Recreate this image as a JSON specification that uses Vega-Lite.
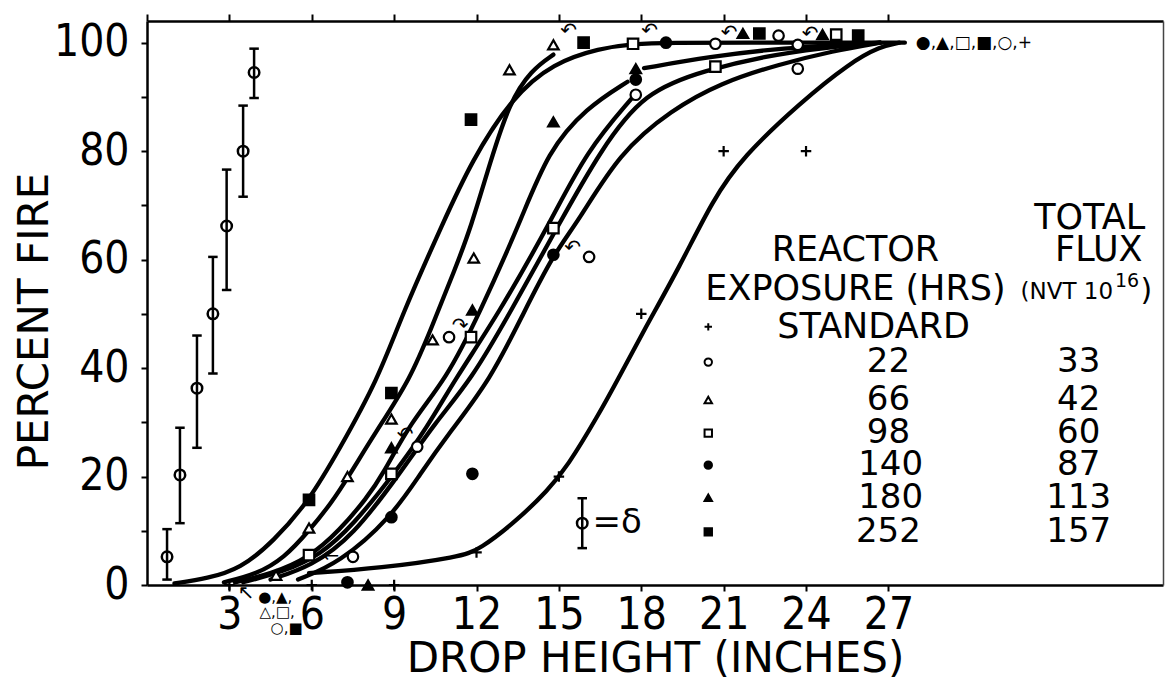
{
  "$schema": "https://vega.github.io/schema/vega-lite/v6.json",
  "width": 1016,
  "height": 564,
  "autosize": {"type": "none"},
  "padding": {"left": 147, "top": 21, "right": 2, "bottom": 93},
  "background": "white",
  "config": {
    "view": {"stroke": null},
    "axis": {"grid": false, "domainColor": "black", "tickColor": "black", "labelColor": "black", "titleColor": "black", "labelFont": "DejaVu Sans Condensed", "titleFont": "DejaVu Sans", "titleFontWeight": "normal"}
  },
  "datasets": {
    "curves": [
      {"c": "A", "x": 1.0, "y": 0.3}, {"c": "A", "x": 2.2, "y": 1.2}, {"c": "A", "x": 3.4, "y": 3}, {"c": "A", "x": 4.6, "y": 8}, {"c": "A", "x": 5.9, "y": 15.5}, {"c": "A", "x": 7.0, "y": 25}, {"c": "A", "x": 8.4, "y": 37.8}, {"c": "A", "x": 9.3, "y": 50}, {"c": "A", "x": 10.8, "y": 67}, {"c": "A", "x": 11.8, "y": 78}, {"c": "A", "x": 13.3, "y": 90}, {"c": "A", "x": 14.8, "y": 96.3}, {"c": "A", "x": 16.5, "y": 99}, {"c": "A", "x": 17.7, "y": 99.8}, {"c": "A", "x": 19, "y": 100}, {"c": "A", "x": 22, "y": 100}, {"c": "A", "x": 25, "y": 100}, {"c": "A", "x": 27.6, "y": 100},
      {"c": "B", "x": 2.8, "y": 0.5}, {"c": "B", "x": 4, "y": 2}, {"c": "B", "x": 5, "y": 5}, {"c": "B", "x": 5.9, "y": 10}, {"c": "B", "x": 6.7, "y": 15}, {"c": "B", "x": 7.4, "y": 20.5}, {"c": "B", "x": 8.3, "y": 28}, {"c": "B", "x": 9.6, "y": 38}, {"c": "B", "x": 10.4, "y": 48}, {"c": "B", "x": 11.2, "y": 58}, {"c": "B", "x": 11.8, "y": 66}, {"c": "B", "x": 12.5, "y": 78}, {"c": "B", "x": 13.2, "y": 89}, {"c": "B", "x": 14, "y": 95}, {"c": "B", "x": 14.8, "y": 97.8},
      {"c": "C", "x": 3.2, "y": 0.5}, {"c": "C", "x": 4.5, "y": 2}, {"c": "C", "x": 5.9, "y": 5}, {"c": "C", "x": 7, "y": 10}, {"c": "C", "x": 8, "y": 16}, {"c": "C", "x": 8.6, "y": 20.5}, {"c": "C", "x": 9.6, "y": 30}, {"c": "C", "x": 10.9, "y": 38}, {"c": "C", "x": 12.1, "y": 50}, {"c": "C", "x": 13.6, "y": 67}, {"c": "C", "x": 14.6, "y": 80}, {"c": "C", "x": 16, "y": 88}, {"c": "C", "x": 17.5, "y": 92.8},
      {"c": "C2", "x": 18.1, "y": 95.3}, {"c": "C2", "x": 20.5, "y": 97.4}, {"c": "C2", "x": 23, "y": 99}, {"c": "C2", "x": 26.7, "y": 100},
      {"c": "D", "x": 3.5, "y": 0.5}, {"c": "D", "x": 5, "y": 2.5}, {"c": "D", "x": 6.3, "y": 5.5}, {"c": "D", "x": 7.5, "y": 11}, {"c": "D", "x": 9, "y": 20.5}, {"c": "D", "x": 10.2, "y": 29}, {"c": "D", "x": 11.2, "y": 37.8}, {"c": "D", "x": 12.8, "y": 50}, {"c": "D", "x": 14.7, "y": 67}, {"c": "D", "x": 16, "y": 80}, {"c": "D", "x": 17.7, "y": 90},
      {"c": "E", "x": 4.5, "y": 1}, {"c": "E", "x": 6, "y": 3.5}, {"c": "E", "x": 7.5, "y": 9}, {"c": "E", "x": 9.2, "y": 20.5}, {"c": "E", "x": 10.5, "y": 30}, {"c": "E", "x": 11.8, "y": 37.8}, {"c": "E", "x": 13.2, "y": 50}, {"c": "E", "x": 15.05, "y": 67}, {"c": "E", "x": 16.5, "y": 80}, {"c": "E", "x": 18.1, "y": 91}, {"c": "E", "x": 20.4, "y": 95}, {"c": "E", "x": 22.5, "y": 97.5}, {"c": "E", "x": 24.5, "y": 99}, {"c": "E", "x": 26.7, "y": 100},
      {"c": "F", "x": 5.5, "y": 1}, {"c": "F", "x": 7, "y": 4}, {"c": "F", "x": 8.9, "y": 12.5}, {"c": "F", "x": 9.95, "y": 20.5}, {"c": "F", "x": 11, "y": 28}, {"c": "F", "x": 12.5, "y": 37.8}, {"c": "F", "x": 13.7, "y": 50}, {"c": "F", "x": 14.8, "y": 61}, {"c": "F", "x": 15.7, "y": 67}, {"c": "F", "x": 17.2, "y": 79.7}, {"c": "F", "x": 19.1, "y": 87.6}, {"c": "F", "x": 20.9, "y": 92.6}, {"c": "F", "x": 23, "y": 96}, {"c": "F", "x": 25, "y": 98.5}, {"c": "F", "x": 26.7, "y": 100},
      {"c": "G", "x": 5.9, "y": 2.2}, {"c": "G", "x": 8.5, "y": 3.1}, {"c": "G", "x": 11.4, "y": 5.2}, {"c": "G", "x": 12.1, "y": 6.5}, {"c": "G", "x": 13.5, "y": 12}, {"c": "G", "x": 14.6, "y": 17.5}, {"c": "G", "x": 15.3, "y": 21.8}, {"c": "G", "x": 16.4, "y": 31}, {"c": "G", "x": 17.2, "y": 38.4}, {"c": "G", "x": 18.1, "y": 47}, {"c": "G", "x": 19.4, "y": 58.7}, {"c": "G", "x": 20.6, "y": 71}, {"c": "G", "x": 21.7, "y": 79}, {"c": "G", "x": 23.8, "y": 89}, {"c": "G", "x": 25.6, "y": 96.3}, {"c": "G", "x": 26.7, "y": 99.3}, {"c": "G", "x": 27.4, "y": 100}
    ],
    "pts": [
      {"s": "Standard", "x": 3, "y": 0}, {"s": "Standard", "x": 6, "y": 0}, {"s": "Standard", "x": 9, "y": 0}, {"s": "Standard", "x": 12, "y": 6}, {"s": "Standard", "x": 15, "y": 20}, {"s": "Standard", "x": 18, "y": 50}, {"s": "Standard", "x": 21, "y": 80}, {"s": "Standard", "x": 24, "y": 80},
      {"s": "22", "x": 7.5, "y": 5.2}, {"s": "22", "x": 9.84, "y": 25.5}, {"s": "22", "x": 11, "y": 45.7}, {"s": "22", "x": 16.1, "y": 60.5}, {"s": "22", "x": 17.8, "y": 90.4}, {"s": "22", "x": 20.7, "y": 99.8}, {"s": "22", "x": 23, "y": 101.3}, {"s": "22", "x": 23.7, "y": 99.6}, {"s": "22", "x": 23.7, "y": 95.2},
      {"s": "66", "x": 4.7, "y": 1.8}, {"s": "66", "x": 5.9, "y": 10.5}, {"s": "66", "x": 7.3, "y": 20}, {"s": "66", "x": 8.9, "y": 30.6}, {"s": "66", "x": 10.4, "y": 45.2}, {"s": "66", "x": 11.9, "y": 60.3}, {"s": "66", "x": 13.2, "y": 95}, {"s": "66", "x": 14.8, "y": 99.6},
      {"s": "98", "x": 5.9, "y": 5.5}, {"s": "98", "x": 8.9, "y": 20.5}, {"s": "98", "x": 11.8, "y": 45.7}, {"s": "98", "x": 14.8, "y": 65.8}, {"s": "98", "x": 17.7, "y": 99.8}, {"s": "98", "x": 20.7, "y": 95.6}, {"s": "98", "x": 25.1, "y": 101.5},
      {"s": "140", "x": 7.3, "y": 0.5}, {"s": "140", "x": 8.9, "y": 12.5}, {"s": "140", "x": 11.85, "y": 20.5}, {"s": "140", "x": 14.8, "y": 60.9}, {"s": "140", "x": 17.8, "y": 93.2}, {"s": "140", "x": 18.9, "y": 100},
      {"s": "180", "x": 8.05, "y": 0}, {"s": "180", "x": 8.9, "y": 25.3}, {"s": "180", "x": 11.85, "y": 50.7}, {"s": "180", "x": 14.8, "y": 85.4}, {"s": "180", "x": 17.8, "y": 95.2}, {"s": "180", "x": 21.7, "y": 101.7}, {"s": "180", "x": 24.6, "y": 101.5},
      {"s": "252", "x": 5.9, "y": 15.7}, {"s": "252", "x": 8.9, "y": 35.4}, {"s": "252", "x": 11.8, "y": 85.8}, {"s": "252", "x": 15.9, "y": 100}, {"s": "252", "x": 22.3, "y": 101.7}, {"s": "252", "x": 25.9, "y": 101.3}
    ],
    "legsym": [
      {"s": "Standard", "x": 20.44, "y": 47.6}, {"s": "22", "x": 20.44, "y": 41.1}, {"s": "66", "x": 20.44, "y": 34.1}, {"s": "98", "x": 20.44, "y": 28.0}, {"s": "140", "x": 20.44, "y": 22.1}, {"s": "180", "x": 20.44, "y": 16.1}, {"s": "252", "x": 20.44, "y": 9.8}
    ],
    "eb": [
      {"x": 0.73, "y": 5.2, "lo": 1, "hi": 10.3},
      {"x": 1.2, "y": 20.3, "lo": 11.4, "hi": 29},
      {"x": 1.82, "y": 36.3, "lo": 25.3, "hi": 46},
      {"x": 2.4, "y": 50, "lo": 39, "hi": 60.5},
      {"x": 2.9, "y": 66.2, "lo": 54.4, "hi": 76.6},
      {"x": 3.5, "y": 80, "lo": 71.6, "hi": 88.4},
      {"x": 3.9, "y": 94.5, "lo": 89.8, "hi": 98.9},
      {"x": 15.85, "y": 11.4, "lo": 6.8, "hi": 16}
    ],
    "txt": [
      {"k": "head", "x": 34.33, "y": 67.7, "t": "TOTAL"},
      {"k": "head", "x": 25.8, "y": 61.8, "t": "REACTOR"},
      {"k": "head", "x": 34.66, "y": 61.8, "t": "FLUX"},
      {"k": "head", "x": 25.8, "y": 54.6, "t": "EXPOSURE (HRS)"},
      {"k": "head", "x": 26.46, "y": 47.6, "t": "STANDARD"},
      {"k": "small", "x": 31.81, "y": 54.1, "t": "(NVT 10"},
      {"k": "sup", "x": 35.25, "y": 56.0, "t": "16"},
      {"k": "paren", "x": 36.18, "y": 54.3, "t": ")"},
      {"k": "num", "x": 27.0, "y": 41.1, "t": "22"}, {"k": "num", "x": 33.93, "y": 41.1, "t": "33"},
      {"k": "num", "x": 27.0, "y": 34.1, "t": "66"}, {"k": "num", "x": 33.93, "y": 34.1, "t": "42"},
      {"k": "num", "x": 27.0, "y": 28.0, "t": "98"}, {"k": "num", "x": 33.93, "y": 28.0, "t": "60"},
      {"k": "num", "x": 27.08, "y": 22.1, "t": "140"}, {"k": "num", "x": 33.93, "y": 22.1, "t": "87"},
      {"k": "num", "x": 27.08, "y": 16.1, "t": "180"}, {"k": "num", "x": 33.93, "y": 16.1, "t": "113"},
      {"k": "num", "x": 27.0, "y": 9.8, "t": "252"}, {"k": "num", "x": 33.93, "y": 9.8, "t": "157"},
      {"k": "delta", "x": 16.22, "y": 11.4, "t": "=δ"},
      {"k": "sym", "x": 28.0, "y": 100, "t": "●,▲,□,■,○,+"},
      {"k": "symb", "x": 4.05, "y": -2.2, "t": "●,▲,"},
      {"k": "symb", "x": 4.1, "y": -5.0, "t": "△,□,"},
      {"k": "symb", "x": 4.5, "y": -7.9, "t": "○,■"},
      {"k": "arrow", "x": 15.35, "y": 102.2, "t": "↶"},
      {"k": "arrow", "x": 18.3, "y": 102.2, "t": "↶"},
      {"k": "arrow", "x": 21.2, "y": 101.8, "t": "↶"},
      {"k": "arrow", "x": 24.15, "y": 101.6, "t": "↶"},
      {"k": "arrow", "x": 15.5, "y": 62.2, "t": "↶"},
      {"k": "arrow", "x": 11.4, "y": 47.8, "t": "↷"},
      {"k": "arrow", "x": 9.4, "y": 27.6, "t": "↶"},
      {"k": "arrow", "x": 6.7, "y": 5.4, "t": "←"},
      {"k": "arrow", "x": 3.6, "y": -1.5, "t": "↖"}
    ]
  },
  "resolve": {"axis": {"x": "independent", "y": "independent"}},
  "layer": [
    {
      "data": {"name": "curves"},
      "mark": {"type": "line", "interpolate": "basis", "stroke": "black", "strokeWidth": 4.3, "strokeCap": "round"},
      "encoding": {
        "x": {"field": "x", "type": "quantitative", "scale": {"domain": [0, 37], "nice": false, "zero": false},
          "axis": {"orient": "bottom", "values": [3, 6, 9, 12, 15, 18, 21, 24, 27], "tickSize": 6, "tickWidth": 2, "domainWidth": 2.5, "labelFontSize": 44, "labelBaseline": "alphabetic", "labelPadding": 37, "labelFlush": false, "labelOverlap": false, "title": "DROP HEIGHT (INCHES)", "titleFontSize": 42, "titleBaseline": "alphabetic", "titleY": 86}},
        "y": {"field": "y", "type": "quantitative", "scale": {"domain": [0, 104], "nice": false, "zero": false},
          "axis": {"orient": "left", "values": [0, 10, 20, 30, 40, 50, 60, 70, 80, 90, 100], "labelExpr": "datum.value % 20 == 0 ? datum.label : ''", "tickSize": 6, "tickWidth": 2, "domainWidth": 2.5, "labelFontSize": 44, "labelPadding": 12, "labelFlush": false, "labelOverlap": false, "title": "PERCENT FIRE", "titleFontSize": 42, "titleAngle": -90, "titleBaseline": "alphabetic", "titleAlign": "center", "titleX": -100, "titleY": 300}},
        "detail": {"field": "c", "type": "nominal"}
      }
    },
    {
      "data": {"name": "pts"},
      "mark": {"type": "point", "stroke": "black", "strokeWidth": 2.2, "opacity": 1, "size": 110},
      "encoding": {
        "x": {"field": "x", "type": "quantitative", "axis": {"orient": "top", "values": [0, 3, 6, 9, 12, 15, 18, 21, 24, 27], "tickSize": 7, "tickWidth": 2, "domainWidth": 2.5, "labels": false, "title": null}},
        "y": {"field": "y", "type": "quantitative", "axis": {"orient": "right", "ticks": false, "labels": false, "domainWidth": 1.5, "domainColor": "#444", "title": null}},
        "shape": {"field": "s", "type": "nominal", "legend": null, "scale": {"domain": ["Standard", "22", "66", "98", "140", "180", "252"], "range": ["M-1,0H1M0,-1V1", "circle", "triangle-up", "square", "circle", "triangle-up", "square"]}},
        "fill": {"field": "s", "type": "nominal", "legend": null, "scale": {"domain": ["Standard", "22", "66", "98", "140", "180", "252"], "range": ["transparent", "white", "white", "white", "black", "black", "black"]}}
      }
    },
    {
      "data": {"name": "legsym"},
      "mark": {"type": "point", "stroke": "black", "strokeWidth": 2, "opacity": 1, "size": 55},
      "encoding": {
        "x": {"field": "x", "type": "quantitative", "axis": null},
        "y": {"field": "y", "type": "quantitative", "axis": null},
        "shape": {"field": "s", "type": "nominal", "legend": null},
        "fill": {"field": "s", "type": "nominal", "legend": null}
      }
    },
    {
      "data": {"name": "eb"},
      "mark": {"type": "rule", "stroke": "black", "strokeWidth": 2.5},
      "encoding": {
        "x": {"field": "x", "type": "quantitative", "axis": null},
        "y": {"field": "lo", "type": "quantitative", "axis": null},
        "y2": {"field": "hi"}
      }
    },
    {
      "data": {"name": "eb"},
      "mark": {"type": "point", "shape": "M-1,0H1", "size": 90, "stroke": "black", "strokeWidth": 2.5, "opacity": 1},
      "encoding": {
        "x": {"field": "x", "type": "quantitative", "axis": null},
        "y": {"field": "lo", "type": "quantitative", "axis": null}
      }
    },
    {
      "data": {"name": "eb"},
      "mark": {"type": "point", "shape": "M-1,0H1", "size": 90, "stroke": "black", "strokeWidth": 2.5, "opacity": 1},
      "encoding": {
        "x": {"field": "x", "type": "quantitative", "axis": null},
        "y": {"field": "hi", "type": "quantitative", "axis": null}
      }
    },
    {
      "data": {"name": "eb"},
      "mark": {"type": "point", "shape": "circle", "size": 110, "stroke": "black", "strokeWidth": 2.5, "fill": "transparent", "opacity": 1},
      "encoding": {
        "x": {"field": "x", "type": "quantitative", "axis": null},
        "y": {"field": "y", "type": "quantitative", "axis": null}
      }
    },
    {
      "data": {"name": "txt"},
      "transform": [{"filter": "datum.k == 'head'"}],
      "mark": {"type": "text", "font": "DejaVu Sans", "fontSize": 35, "align": "center", "baseline": "middle", "color": "black"},
      "encoding": {"x": {"field": "x", "type": "quantitative", "axis": null}, "y": {"field": "y", "type": "quantitative", "axis": null}, "text": {"field": "t"}}
    },
    {
      "data": {"name": "txt"},
      "transform": [{"filter": "datum.k == 'num'"}],
      "mark": {"type": "text", "font": "DejaVu Sans", "fontSize": 34, "align": "center", "baseline": "middle", "color": "black"},
      "encoding": {"x": {"field": "x", "type": "quantitative", "axis": null}, "y": {"field": "y", "type": "quantitative", "axis": null}, "text": {"field": "t"}}
    },
    {
      "data": {"name": "txt"},
      "transform": [{"filter": "datum.k == 'small'"}],
      "mark": {"type": "text", "font": "DejaVu Sans", "fontSize": 23, "align": "left", "baseline": "middle", "color": "black"},
      "encoding": {"x": {"field": "x", "type": "quantitative", "axis": null}, "y": {"field": "y", "type": "quantitative", "axis": null}, "text": {"field": "t"}}
    },
    {
      "data": {"name": "txt"},
      "transform": [{"filter": "datum.k == 'sup'"}],
      "mark": {"type": "text", "font": "DejaVu Sans", "fontSize": 19, "align": "left", "baseline": "middle", "color": "black"},
      "encoding": {"x": {"field": "x", "type": "quantitative", "axis": null}, "y": {"field": "y", "type": "quantitative", "axis": null}, "text": {"field": "t"}}
    },
    {
      "data": {"name": "txt"},
      "transform": [{"filter": "datum.k == 'paren'"}],
      "mark": {"type": "text", "font": "DejaVu Sans", "fontSize": 30, "align": "left", "baseline": "middle", "color": "black"},
      "encoding": {"x": {"field": "x", "type": "quantitative", "axis": null}, "y": {"field": "y", "type": "quantitative", "axis": null}, "text": {"field": "t"}}
    },
    {
      "data": {"name": "txt"},
      "transform": [{"filter": "datum.k == 'delta'"}],
      "mark": {"type": "text", "font": "DejaVu Sans", "fontSize": 34, "align": "left", "baseline": "middle", "color": "black"},
      "encoding": {"x": {"field": "x", "type": "quantitative", "axis": null}, "y": {"field": "y", "type": "quantitative", "axis": null}, "text": {"field": "t"}}
    },
    {
      "data": {"name": "txt"},
      "transform": [{"filter": "datum.k == 'sym'"}],
      "mark": {"type": "text", "font": "DejaVu Sans", "fontSize": 17, "align": "left", "baseline": "middle", "color": "black"},
      "encoding": {"x": {"field": "x", "type": "quantitative", "axis": null}, "y": {"field": "y", "type": "quantitative", "axis": null}, "text": {"field": "t"}}
    },
    {
      "data": {"name": "txt"},
      "transform": [{"filter": "datum.k == 'symb'"}],
      "mark": {"type": "text", "font": "DejaVu Sans", "fontSize": 15, "align": "left", "baseline": "middle", "color": "black"},
      "encoding": {"x": {"field": "x", "type": "quantitative", "axis": null}, "y": {"field": "y", "type": "quantitative", "axis": null}, "text": {"field": "t"}}
    },
    {
      "data": {"name": "txt"},
      "transform": [{"filter": "datum.k == 'arrow'"}],
      "mark": {"type": "text", "font": "DejaVu Sans", "fontSize": 20, "align": "center", "baseline": "middle", "color": "black"},
      "encoding": {"x": {"field": "x", "type": "quantitative", "axis": null}, "y": {"field": "y", "type": "quantitative", "axis": null}, "text": {"field": "t"}}
    }
  ]
}
